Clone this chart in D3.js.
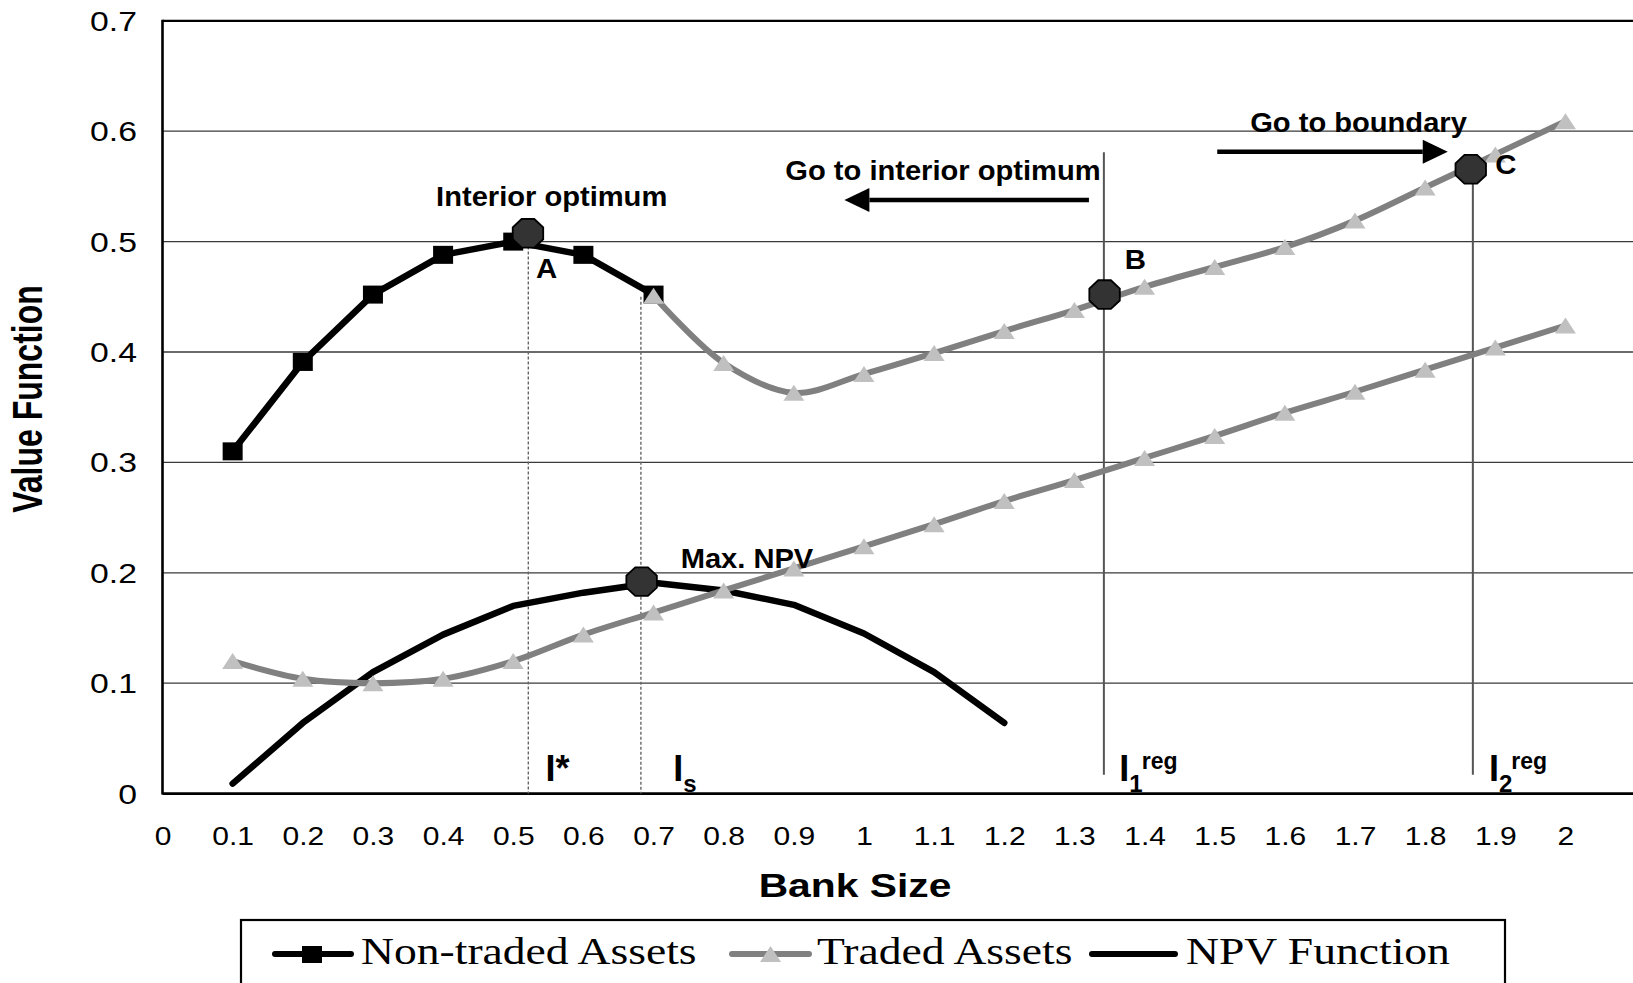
<!DOCTYPE html>
<html><head><meta charset="utf-8">
<script src="https://cdn.jsdelivr.net/npm/d3@7"></script>
<style>body{margin:0;background:#fff;} svg{display:block;}</style>
</head><body><svg id="chart" width="1633" height="983"></svg>
<script>
// ---------- data ----------
const xTickValues = [0,0.1,0.2,0.3,0.4,0.5,0.6,0.7,0.8,0.9,1,1.1,1.2,1.3,1.4,1.5,1.6,1.7,1.8,1.9,2];
const xTickLabels = ["0","0.1","0.2","0.3","0.4","0.5","0.6","0.7","0.8","0.9","1","1.1","1.2","1.3","1.4","1.5","1.6","1.7","1.8","1.9","2"];
const yTickValues = [0,0.1,0.2,0.3,0.4,0.5,0.6,0.7];
const yTickLabels = ["0","0.1","0.2","0.3","0.4","0.5","0.6","0.7"];

const seriesNames = ["Non-traded Assets","Traded Assets","NPV Function"];

const nonTradedX = [0.1,0.2,0.3,0.4,0.5,0.6,0.7];
const nonTradedY = [0.310,0.391,0.452,0.488,0.500,0.488,0.452];

const tradedUpperX = [0.7,0.8,0.9,1.0,1.1,1.2,1.3,1.4,1.5,1.6,1.7,1.8,1.9,2.0];
const tradedUpperY = [0.451,0.390,0.363,0.380,0.399,0.419,0.438,0.459,0.477,0.495,0.519,0.549,0.579,0.609];

const tradedLowerX = [0.1,0.2,0.3,0.4,0.5,0.6,0.7,0.8,0.9,1.0,1.1,1.2,1.3,1.4,1.5,1.6,1.7,1.8,1.9,2.0];
const tradedLowerY = [0.120,0.104,0.100,0.104,0.120,0.144,0.164,0.184,0.204,0.224,0.244,0.265,0.284,0.304,0.324,0.345,0.364,0.384,0.404,0.424];

const npvX = [0.1,0.2,0.3,0.4,0.5,0.6,0.7,0.8,0.9,1.0,1.1,1.2];
const npvY = [0.009,0.064,0.110,0.144,0.170,0.182,0.191,0.184,0.171,0.145,0.110,0.064];

// key points (octagons)
const keyX = [0.521,1.343,1.865,0.683];
const keyY = [0.5075,0.452,0.5655,0.192];

// vertical reference lines
const refX    = [0.5215,0.682,1.342,1.868];
const refTop  = [0.50,0.45,0.581,0.565];
const refBot  = [0,0,0.017,0.017];
const refDash = [true,true,false,false];

// annotations
const annText = ["Interior optimum","Go to interior optimum","Go to boundary","Max. NPV","A","B","C"];
const annX = [0.5548,1.1126,1.705,0.8332,0.5477,1.387,1.915];
const annY = [0.5322,0.5558,0.5995,0.2041,0.4668,0.4749,0.5612];

// arrows
const arrowX1 = [1.3207,1.5036];
const arrowX2 = [0.9721,1.8322];
const arrowY  = [0.5377,0.5814];

// I labels
const iMain = ["I*","I","I","I"];
const iSub  = ["","s","1","2"];
const iSup  = ["","","reg","reg"];
const iX    = [0.546,0.728,1.364,1.891];
const iY    = 0.0115;

// ---------- drawing ----------
const svg = d3.select("#chart");
svg.append("rect").attr("width",1633).attr("height",983).attr("fill","#fff");

const x = d3.scaleLinear().domain([0,2.1]).range([162.5,1635.6]);
const y = d3.scaleLinear().domain([0,0.7]).range([793.6,20.8]);
const SANS = "'Liberation Sans', Arial, Helvetica, sans-serif";
const SERIF = "'Liberation Serif', 'Times New Roman', serif";

// gridlines
svg.append("g").selectAll("line").data(yTickValues.filter(v=>v>0 && v<0.7)).join("line")
  .attr("x1",x(0)).attr("x2",1633).attr("y1",d=>y(d)).attr("y2",d=>y(d))
  .attr("stroke","#3a3a3a").attr("stroke-width",1.3);
// top border
svg.append("line").attr("x1",x(0)).attr("x2",1633).attr("y1",y(0.7)).attr("y2",y(0.7))
  .attr("stroke","#000").attr("stroke-width",2.2);

// axes
const xAxis = svg.append("g").attr("transform",`translate(0,${y(0)})`)
  .call(d3.axisBottom(x).tickValues(xTickValues).tickFormat((d,i)=>xTickLabels[i]).tickSize(0));
xAxis.select(".domain").remove();
xAxis.selectAll("text").attr("y",51).attr("dy",0)
  .attr("transform","scale(1.2,1)")
  .style("font-family",SANS).style("font-size","25px").attr("fill","#000");

const yAxis = svg.append("g").attr("transform",`translate(${x(0)},0)`)
  .call(d3.axisLeft(y).tickValues(yTickValues).tickFormat((d,i)=>yTickLabels[i]).tickSize(0));
yAxis.select(".domain").remove();
yAxis.selectAll("text").attr("x",0).attr("dy","0.35em")
  .attr("transform","translate(-25.5,0) scale(1.25,1)")
  .style("font-family",SANS).style("font-size","27px").attr("fill","#000");

svg.append("line").attr("x1",x(0)).attr("x2",1633).attr("y1",y(0)).attr("y2",y(0))
  .attr("stroke","#000").attr("stroke-width",2.6);
svg.append("line").attr("x1",x(0)).attr("x2",x(0)).attr("y1",y(0.7)-1).attr("y2",y(0)+1)
  .attr("stroke","#000").attr("stroke-width",2.6);

// axis titles
svg.append("text").text("Value Function")
  .attr("transform",`translate(42,399) scale(1.3,1) rotate(-90)`)
  .attr("text-anchor","middle").style("font-family",SANS).style("font-size","32px").style("font-weight","bold");
svg.append("text").text("Bank Size")
  .attr("transform",`translate(855,897) scale(1.2,1)`)
  .attr("text-anchor","middle").style("font-family",SANS).style("font-size","34px").style("font-weight","bold");

// reference vertical lines
refX.forEach((v,i)=>{
  svg.append("line").attr("x1",x(v)).attr("x2",x(v)).attr("y1",y(refTop[i])).attr("y2",y(refBot[i]))
    .attr("stroke",refDash[i]?"#666":"#555").attr("stroke-width",refDash[i]?1.4:2)
    .attr("stroke-dasharray",refDash[i]?"3,2":null);
});

// series lines
const pts = (xs,ys)=>xs.map((v,i)=>[x(v),y(ys[i])]);
const straight = d3.line();
const smooth = d3.line().curve(d3.curveCatmullRom.alpha(0.5));

svg.append("path").attr("d",straight(pts(npvX,npvY))).attr("fill","none")
  .attr("stroke","#000").attr("stroke-width",6.5).attr("stroke-linecap","round").attr("stroke-linejoin","round");
svg.append("path").attr("d",straight(pts(nonTradedX,nonTradedY))).attr("fill","none")
  .attr("stroke","#000").attr("stroke-width",6.5).attr("stroke-linejoin","round");
svg.append("g").selectAll("rect").data(pts(nonTradedX,nonTradedY)).join("rect")
  .attr("x",d=>d[0]-10).attr("y",d=>d[1]-9).attr("width",20).attr("height",18).attr("fill","#000");

svg.append("path").attr("d",smooth(pts(tradedLowerX,tradedLowerY))).attr("fill","none")
  .attr("stroke","#808080").attr("stroke-width",6).attr("stroke-linejoin","round");
svg.append("path").attr("d",smooth(pts(tradedUpperX,tradedUpperY))).attr("fill","none")
  .attr("stroke","#808080").attr("stroke-width",6).attr("stroke-linejoin","round");
const tri = "M0,-8L10.5,8L-10.5,8Z";
svg.append("g").selectAll("path").data(pts(tradedLowerX,tradedLowerY).concat(pts(tradedUpperX,tradedUpperY))).join("path")
  .attr("d",tri).attr("transform",d=>`translate(${d[0]},${d[1]})`).attr("fill","#c0c0c0");

// octagons
const oct = d3.range(8).map(k=>{const a=(k*45+22.5)*Math.PI/180;return [16.5*Math.cos(a),15.5*Math.sin(a)];});
svg.append("g").selectAll("path").data(pts(keyX,keyY)).join("path")
  .attr("d","M"+oct.map(p=>p.join(",")).join("L")+"Z")
  .attr("transform",d=>`translate(${d[0]},${d[1]})`)
  .attr("fill","#333").attr("stroke","#000").attr("stroke-width",1.8);

// arrows
arrowX1.forEach((v,i)=>{
  const x1=x(v), x2=x(arrowX2[i]), yy=y(arrowY[i]);
  const dir = x2>x1?1:-1;
  const hb = x2-dir*25;
  svg.append("line").attr("x1",x1).attr("x2",hb).attr("y1",yy).attr("y2",yy).attr("stroke","#000").attr("stroke-width",4.5);
  svg.append("path").attr("d",`M${x2},${yy}L${hb},${yy-12}L${hb},${yy+12}Z`).attr("fill","#000");
});

// annotations
annText.forEach((t,i)=>{
  svg.append("text").text(t)
    .attr("transform",`translate(${x(annX[i])},${y(annY[i])}) scale(${t.length>1?1.04:1.05},1)`)
    .attr("text-anchor","middle").style("font-family",SANS).style("font-size","28px").style("font-weight","bold");
});

// I labels
iMain.forEach((m,i)=>{
  const tx = svg.append("text").attr("x",x(iX[i])).attr("y",y(iY))
    .style("font-family",SANS).style("font-weight","bold").style("font-size","36px");
  tx.append("tspan").text(m);
  if(iSub[i]) tx.append("tspan").text(iSub[i]).style("font-size","24px").attr("dy",11);
  if(iSup[i]) tx.append("tspan").text(iSup[i]).style("font-size","23px").attr("dy",-23).attr("dx",-1);
});

// legend
const lg = svg.append("g");
lg.append("rect").attr("x",241).attr("y",920).attr("width",1264).attr("height",100)
  .attr("fill","#fff").attr("stroke","#000").attr("stroke-width",2.2);
const legY = 954, legBase = 964;
// non-traded
lg.append("line").attr("x1",275).attr("x2",351).attr("y1",legY).attr("y2",legY).attr("stroke","#000").attr("stroke-width",6).attr("stroke-linecap","round");
lg.append("rect").attr("x",302).attr("y",946).attr("width",20).attr("height",17).attr("fill","#000");
// traded
lg.append("line").attr("x1",732).attr("x2",809).attr("y1",legY).attr("y2",legY).attr("stroke","#808080").attr("stroke-width",6).attr("stroke-linecap","round");
lg.append("path").attr("d",tri).attr("transform",`translate(770.5,${legY})`).attr("fill","#c0c0c0");
// npv
lg.append("line").attr("x1",1092).attr("x2",1175).attr("y1",legY).attr("y2",legY).attr("stroke","#000").attr("stroke-width",6).attr("stroke-linecap","round");
const legTextX = [361,817,1186];
seriesNames.forEach((n,i)=>{
  lg.append("text").text(n).attr("transform",`translate(${legTextX[i]},${legBase}) scale(1.2,1)`)
    .style("font-family",SERIF).style("font-size","38px").attr("fill","#000");
});
</script></body></html>
